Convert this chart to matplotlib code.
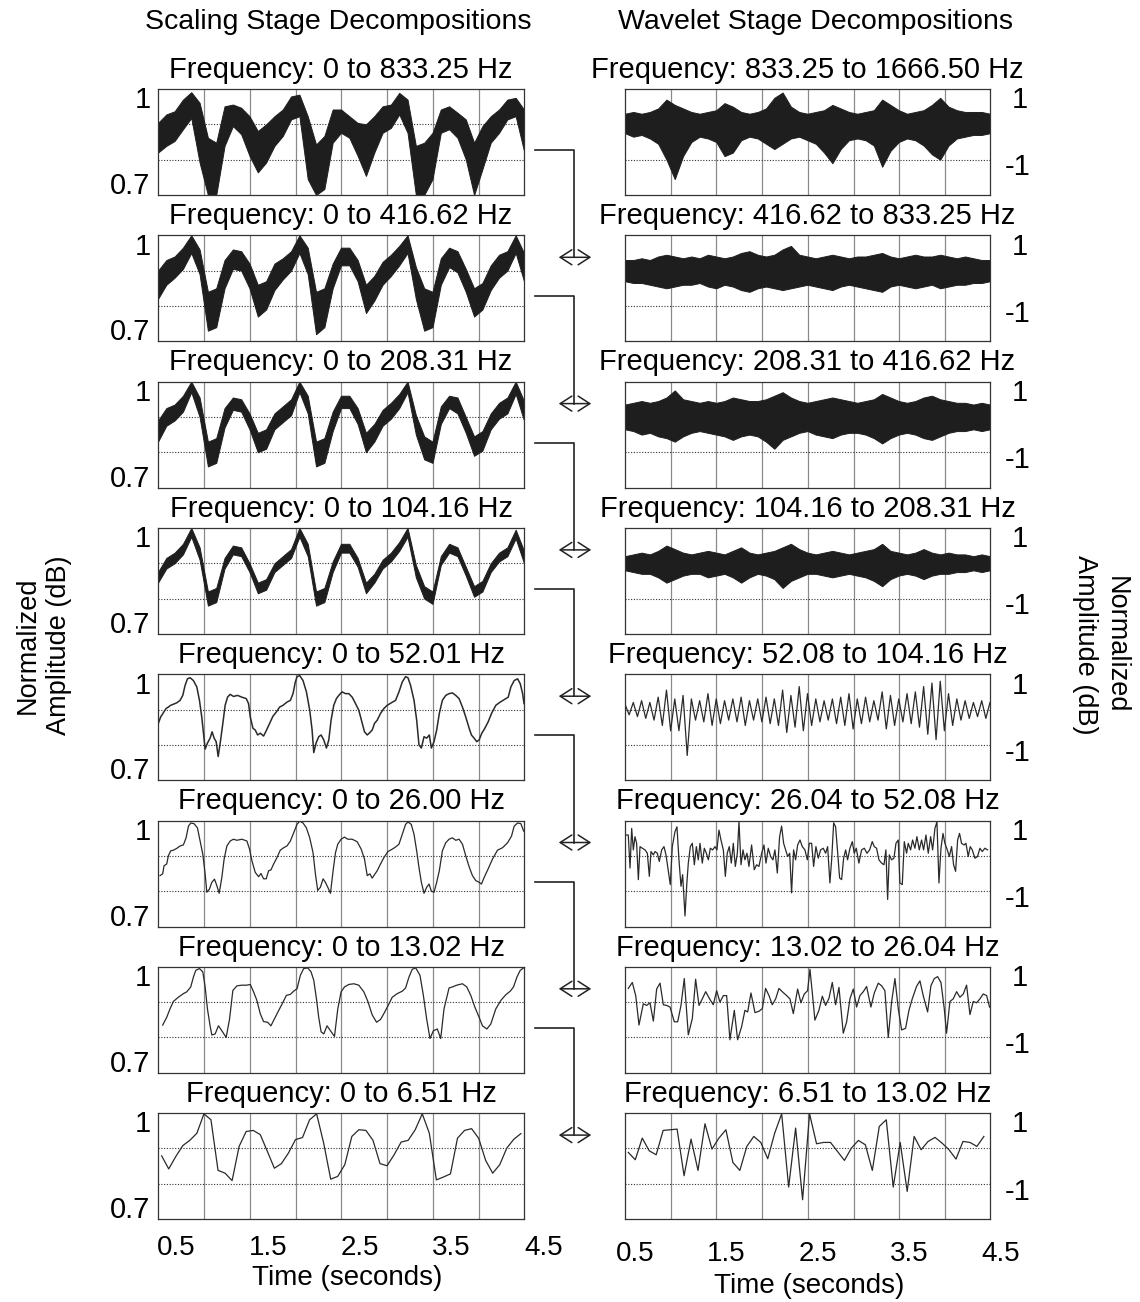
import numpy as np
import matplotlib
matplotlib.use("Agg")
import matplotlib.pyplot as plt
from matplotlib.patches import FancyArrowPatch
from matplotlib.lines import Line2D

plt.rcParams['font.family'] = ['Liberation Sans', 'DejaVu Sans']

# ---------------- titles ----------------
left_titles = ["Frequency: 0 to 833.25 Hz", "Frequency: 0 to 416.62 Hz",
               "Frequency: 0 to 208.31 Hz", "Frequency: 0 to 104.16 Hz",
               "Frequency: 0 to 52.01 Hz", "Frequency: 0 to 26.00 Hz",
               "Frequency: 0 to 13.02 Hz", "Frequency: 0 to 6.51 Hz"]
right_titles = ["Frequency: 833.25 to 1666.50 Hz", "Frequency: 416.62 to 833.25 Hz",
                "Frequency: 208.31 to 416.62 Hz", "Frequency: 104.16 to 208.31 Hz",
                "Frequency: 52.08 to 104.16 Hz", "Frequency: 26.04 to 52.08 Hz",
                "Frequency: 13.02 to 26.04 Hz", "Frequency: 6.51 to 13.02 Hz"]
time_labels = [0.5, 1.5, 2.5, 3.5, 4.5]

# ---------------- dense stages (read as upper / lower envelopes) ----------------
left1_hi = [0.904, 0.928, 0.937, 0.970, 0.991, 0.961, 0.862, 0.848, 0.951, 0.956,
            0.947, 0.923, 0.881, 0.900, 0.923, 0.942, 0.979, 0.984, 0.923, 0.843,
            0.867, 0.942, 0.942, 0.923, 0.904, 0.900, 0.923, 0.951, 0.956, 0.989,
            0.970, 0.839, 0.848, 0.876, 0.942, 0.951, 0.933, 0.914, 0.848, 0.895,
            0.923, 0.942, 0.970, 0.975, 0.942]
left1_lo = [0.820, 0.839, 0.853, 0.886, 0.918, 0.792, 0.700, 0.700, 0.839, 0.895,
            0.872, 0.811, 0.764, 0.792, 0.839, 0.867, 0.914, 0.923, 0.745, 0.700,
            0.717, 0.848, 0.876, 0.862, 0.811, 0.754, 0.820, 0.876, 0.890, 0.928,
            0.876, 0.700, 0.700, 0.745, 0.876, 0.886, 0.862, 0.801, 0.700, 0.773,
            0.848, 0.876, 0.914, 0.923, 0.825]
left2_hi = [0.90, 0.93, 0.94, 0.965, 1.0, 0.96, 0.84, 0.85, 0.93, 0.96,
            0.955, 0.92, 0.86, 0.87, 0.92, 0.935, 0.955, 1.0, 0.965, 0.84,
            0.85, 0.92, 0.965, 0.965, 0.93, 0.86, 0.885, 0.925, 0.945, 0.97,
            1.0, 0.91, 0.85, 0.84, 0.935, 0.965, 0.955, 0.905, 0.85, 0.865,
            0.915, 0.945, 0.955, 1.0, 0.95]
left2_lo = [0.82, 0.86, 0.88, 0.905, 0.95, 0.89, 0.73, 0.74, 0.85, 0.905,
            0.90, 0.85, 0.77, 0.79, 0.845, 0.875, 0.90, 0.95, 0.89, 0.72,
            0.74, 0.85, 0.915, 0.915, 0.87, 0.78, 0.815, 0.86, 0.885, 0.915,
            0.95, 0.82, 0.73, 0.74, 0.86, 0.91, 0.895, 0.84, 0.77, 0.79,
            0.845, 0.88, 0.90, 0.95, 0.87]
left3_hi = [0.89, 0.925, 0.935, 0.96, 1.0, 0.955, 0.83, 0.84, 0.925, 0.955,
            0.95, 0.91, 0.855, 0.865, 0.91, 0.93, 0.95, 1.0, 0.96, 0.83,
            0.84, 0.915, 0.96, 0.96, 0.925, 0.855, 0.88, 0.92, 0.94, 0.965,
            1.0, 0.905, 0.845, 0.83, 0.93, 0.96, 0.955, 0.90, 0.845, 0.86,
            0.91, 0.94, 0.955, 1.0, 0.945]
left3_lo = [0.83, 0.875, 0.89, 0.915, 0.97, 0.90, 0.76, 0.77, 0.87, 0.92,
            0.915, 0.865, 0.80, 0.81, 0.865, 0.885, 0.905, 0.97, 0.91, 0.76,
            0.77, 0.86, 0.925, 0.925, 0.88, 0.80, 0.83, 0.875, 0.895, 0.925,
            0.97, 0.85, 0.78, 0.77, 0.88, 0.925, 0.91, 0.855, 0.79, 0.805,
            0.865, 0.895, 0.91, 0.965, 0.89]
left4_hi = [0.875, 0.915, 0.93, 0.955, 1.0, 0.945, 0.82, 0.83, 0.915, 0.95,
            0.945, 0.90, 0.845, 0.855, 0.90, 0.92, 0.94, 1.0, 0.955, 0.82,
            0.83, 0.905, 0.955, 0.955, 0.915, 0.845, 0.87, 0.91, 0.93, 0.96,
            1.0, 0.895, 0.835, 0.82, 0.92, 0.955, 0.945, 0.89, 0.835, 0.85,
            0.90, 0.93, 0.945, 0.995, 0.935]
left4_lo = [0.845, 0.885, 0.90, 0.925, 0.975, 0.91, 0.78, 0.79, 0.885, 0.925,
            0.92, 0.875, 0.815, 0.825, 0.875, 0.895, 0.915, 0.975, 0.92, 0.78,
            0.79, 0.875, 0.93, 0.93, 0.89, 0.815, 0.845, 0.885, 0.905, 0.935,
            0.975, 0.86, 0.80, 0.785, 0.895, 0.93, 0.92, 0.865, 0.805, 0.82,
            0.875, 0.905, 0.92, 0.97, 0.90]

right1_hi = [0.30, 0.35, 0.30, 0.35, 0.45, 0.70, 0.55, 0.45, 0.35, 0.30,
             0.35, 0.40, 0.60, 0.50, 0.35, 0.30, 0.35, 0.45, 0.75, 0.90,
             0.50, 0.35, 0.30, 0.35, 0.40, 0.55, 0.45, 0.35, 0.30, 0.35,
             0.40, 0.70, 0.55, 0.40, 0.30, 0.35, 0.40, 0.55, 0.75, 0.50,
             0.40, 0.35, 0.35, 0.35, 0.30]
right1_lo = [-0.25, -0.35, -0.30, -0.40, -0.55, -1.00, -1.55, -0.90, -0.50, -0.35,
             -0.40, -0.50, -0.90, -0.80, -0.45, -0.35, -0.40, -0.55, -0.70, -0.55,
             -0.40, -0.35, -0.45, -0.55, -0.80, -1.10, -0.70, -0.45, -0.40, -0.45,
             -0.60, -1.20, -0.75, -0.50, -0.40, -0.45, -0.60, -0.85, -1.00, -0.60,
             -0.40, -0.35, -0.30, -0.30, -0.25]
right2_hi = [0.30, 0.30, 0.35, 0.30, 0.40, 0.45, 0.40, 0.35, 0.40, 0.35,
             0.45, 0.40, 0.35, 0.40, 0.50, 0.55, 0.45, 0.40, 0.45, 0.60,
             0.70, 0.45, 0.40, 0.35, 0.40, 0.45, 0.40, 0.35, 0.40, 0.40,
             0.45, 0.50, 0.40, 0.35, 0.40, 0.45, 0.40, 0.40, 0.45, 0.40,
             0.35, 0.40, 0.35, 0.30, 0.30]
right2_lo = [-0.30, -0.35, -0.35, -0.40, -0.45, -0.50, -0.45, -0.40, -0.40, -0.35,
             -0.45, -0.50, -0.40, -0.45, -0.55, -0.60, -0.50, -0.45, -0.50, -0.55,
             -0.50, -0.45, -0.40, -0.45, -0.50, -0.55, -0.45, -0.40, -0.45, -0.50,
             -0.55, -0.60, -0.45, -0.40, -0.45, -0.50, -0.45, -0.40, -0.50, -0.45,
             -0.40, -0.40, -0.35, -0.35, -0.30]
right3_hi = [0.35, 0.40, 0.45, 0.40, 0.45, 0.55, 0.75, 0.50, 0.45, 0.40,
             0.45, 0.40, 0.45, 0.55, 0.50, 0.45, 0.45, 0.50, 0.60, 0.70,
             0.55, 0.45, 0.40, 0.45, 0.50, 0.55, 0.50, 0.45, 0.40, 0.45,
             0.50, 0.65, 0.55, 0.45, 0.40, 0.45, 0.55, 0.60, 0.50, 0.45,
             0.40, 0.40, 0.35, 0.40, 0.35]
right3_lo = [-0.35, -0.40, -0.50, -0.45, -0.55, -0.60, -0.70, -0.55, -0.45, -0.40,
             -0.45, -0.50, -0.55, -0.65, -0.55, -0.50, -0.55, -0.70, -0.90, -0.65,
             -0.55, -0.45, -0.40, -0.50, -0.55, -0.60, -0.50, -0.45, -0.45, -0.50,
             -0.60, -0.75, -0.60, -0.50, -0.45, -0.50, -0.60, -0.65, -0.55, -0.45,
             -0.40, -0.40, -0.35, -0.40, -0.35]
right4_hi = [0.20, 0.25, 0.30, 0.25, 0.35, 0.50, 0.40, 0.30, 0.25, 0.30,
             0.35, 0.30, 0.25, 0.35, 0.45, 0.30, 0.25, 0.30, 0.35, 0.45,
             0.55, 0.40, 0.30, 0.25, 0.30, 0.35, 0.30, 0.25, 0.30, 0.35,
             0.40, 0.55, 0.35, 0.30, 0.25, 0.30, 0.40, 0.30, 0.25, 0.30,
             0.25, 0.25, 0.20, 0.25, 0.20]
right4_lo = [-0.20, -0.25, -0.30, -0.30, -0.40, -0.55, -0.45, -0.35, -0.30, -0.30,
             -0.40, -0.35, -0.30, -0.40, -0.55, -0.40, -0.30, -0.35, -0.45, -0.70,
             -0.50, -0.40, -0.30, -0.30, -0.35, -0.40, -0.35, -0.30, -0.35, -0.40,
             -0.50, -0.65, -0.45, -0.35, -0.30, -0.35, -0.45, -0.35, -0.30, -0.30,
             -0.25, -0.25, -0.20, -0.25, -0.20]
# 52-104 Hz stage: successive peaks and troughs of the spiky trace
right5_peaks = [0.15, 0.20, 0.25, 0.20, 0.35, 0.55, 0.30, 0.40, 0.30, 0.25,
                0.45, 0.30, 0.25, 0.30, 0.35, 0.25, 0.30, 0.35, 0.30, 0.55,
                0.40, 0.65, 0.45, 0.30, 0.25, 0.30, 0.35, 0.45, 0.30, 0.35,
                0.25, 0.50, 0.40, 0.30, 0.45, 0.50, 0.65, 0.75, 0.80, 0.45,
                0.30, 0.25, 0.20, 0.25, 0.20]
right5_troughs = [-0.15, -0.20, -0.25, -0.30, -0.45, -0.60, -0.60, -1.30, -0.30, -0.35,
                  -0.45, -0.40, -0.30, -0.35, -0.45, -0.30, -0.35, -0.40, -0.45, -0.65,
                  -0.50, -0.60, -0.45, -0.35, -0.30, -0.40, -0.45, -0.55, -0.40, -0.35,
                  -0.30, -0.55, -0.45, -0.35, -0.40, -0.50, -0.70, -0.85, -0.60, -0.45,
                  -0.30, -0.25, -0.20, -0.25]

# ---------------- traced stages: (time s, amplitude) ----------------
left5_pts = [(0.304, 0.861), (0.329, 0.879), (0.358, 0.891), (0.388, 0.903), (0.413, 0.907),
             (0.438, 0.912), (0.468, 0.915), (0.504, 0.919), (0.541, 0.926), (0.570, 0.940),
             (0.595, 0.968), (0.621, 0.987), (0.650, 0.990), (0.686, 0.982), (0.723, 0.964),
             (0.752, 0.926), (0.777, 0.879), (0.796, 0.833), (0.814, 0.788), (0.839, 0.805),
             (0.868, 0.819), (0.890, 0.837), (0.912, 0.819), (0.934, 0.809), (0.956, 0.767),
             (0.978, 0.805), (1.007, 0.861), (1.032, 0.912), (1.058, 0.935), (1.087, 0.943),
             (1.123, 0.937), (1.167, 0.940), (1.214, 0.935), (1.262, 0.931), (1.287, 0.917),
             (1.306, 0.879), (1.335, 0.847), (1.360, 0.842), (1.386, 0.828), (1.415, 0.833),
             (1.451, 0.825), (1.480, 0.840), (1.517, 0.861), (1.553, 0.881), (1.590, 0.893),
             (1.626, 0.907), (1.663, 0.912), (1.706, 0.921), (1.743, 0.926), (1.772, 0.945),
             (1.797, 0.978), (1.816, 0.993), (1.845, 0.996), (1.881, 0.982), (1.918, 0.950),
             (1.954, 0.898), (1.980, 0.842), (1.998, 0.778), (2.023, 0.805), (2.052, 0.823),
             (2.078, 0.828), (2.107, 0.814), (2.136, 0.791), (2.162, 0.814), (2.187, 0.870),
             (2.216, 0.912), (2.245, 0.931), (2.271, 0.940), (2.307, 0.950), (2.344, 0.945),
             (2.380, 0.945), (2.417, 0.935), (2.453, 0.917), (2.489, 0.898), (2.526, 0.861),
             (2.551, 0.837), (2.581, 0.828), (2.610, 0.835), (2.635, 0.842), (2.661, 0.861),
             (2.690, 0.870), (2.726, 0.889), (2.763, 0.903), (2.799, 0.912), (2.843, 0.919),
             (2.890, 0.926), (2.927, 0.950), (2.963, 0.978), (2.999, 0.993), (3.025, 0.990),
             (3.054, 0.968), (3.091, 0.926), (3.120, 0.870), (3.145, 0.800), (3.171, 0.791),
             (3.200, 0.823), (3.229, 0.819), (3.258, 0.828), (3.280, 0.791), (3.309, 0.809),
             (3.338, 0.842), (3.367, 0.889), (3.400, 0.926), (3.437, 0.940), (3.473, 0.945),
             (3.509, 0.947), (3.546, 0.940), (3.582, 0.931), (3.619, 0.907), (3.655, 0.879),
             (3.692, 0.847), (3.717, 0.828), (3.746, 0.819), (3.775, 0.809), (3.801, 0.814),
             (3.830, 0.833), (3.863, 0.847), (3.899, 0.865), (3.936, 0.889), (3.983, 0.912),
             (4.030, 0.921), (4.074, 0.928), (4.118, 0.935), (4.147, 0.964), (4.183, 0.982),
             (4.220, 0.987), (4.249, 0.973), (4.275, 0.945), (4.290, 0.917)]

left6_pts = [(0.322, 0.844), (0.351, 0.849), (0.366, 0.872), (0.395, 0.877), (0.413, 0.900),
             (0.438, 0.914), (0.468, 0.916), (0.504, 0.921), (0.541, 0.928), (0.577, 0.931),
             (0.606, 0.951), (0.632, 0.984), (0.657, 0.993), (0.693, 0.991), (0.730, 0.979),
             (0.759, 0.942), (0.788, 0.905), (0.814, 0.849), (0.832, 0.797), (0.861, 0.806),
             (0.887, 0.825), (0.916, 0.834), (0.941, 0.816), (0.967, 0.794), (0.996, 0.839),
             (1.021, 0.891), (1.051, 0.928), (1.087, 0.942), (1.123, 0.947), (1.160, 0.944),
             (1.214, 0.947), (1.269, 0.942), (1.298, 0.919), (1.324, 0.886), (1.360, 0.853),
             (1.397, 0.841), (1.422, 0.850), (1.451, 0.835), (1.480, 0.835), (1.506, 0.858),
             (1.531, 0.860), (1.561, 0.877), (1.597, 0.895), (1.633, 0.916), (1.670, 0.923),
             (1.706, 0.928), (1.743, 0.942), (1.779, 0.965), (1.815, 0.989), (1.845, 0.998),
             (1.881, 0.993), (1.918, 0.979), (1.954, 0.951), (1.990, 0.909), (2.016, 0.849),
             (2.041, 0.802), (2.070, 0.811), (2.100, 0.835), (2.125, 0.825), (2.151, 0.811),
             (2.180, 0.794), (2.209, 0.858), (2.235, 0.909), (2.260, 0.933), (2.296, 0.947),
             (2.333, 0.953), (2.369, 0.947), (2.417, 0.947), (2.471, 0.940), (2.515, 0.919),
             (2.551, 0.891), (2.581, 0.844), (2.610, 0.849), (2.635, 0.837), (2.661, 0.847),
             (2.690, 0.858), (2.726, 0.877), (2.763, 0.895), (2.806, 0.912), (2.854, 0.919),
             (2.890, 0.925), (2.927, 0.933), (2.963, 0.961), (2.999, 0.989), (3.025, 0.996),
             (3.061, 0.989), (3.091, 0.961), (3.120, 0.914), (3.145, 0.867), (3.171, 0.825),
             (3.200, 0.794), (3.229, 0.811), (3.255, 0.820), (3.280, 0.800), (3.309, 0.797),
             (3.338, 0.825), (3.367, 0.858), (3.400, 0.914), (3.437, 0.937), (3.473, 0.947),
             (3.509, 0.951), (3.546, 0.944), (3.582, 0.947), (3.619, 0.933), (3.655, 0.900),
             (3.692, 0.869), (3.728, 0.844), (3.764, 0.830), (3.801, 0.825), (3.826, 0.820),
             (3.856, 0.839), (3.899, 0.863), (3.947, 0.891), (4.001, 0.916), (4.056, 0.923),
             (4.111, 0.937), (4.154, 0.956), (4.183, 0.984), (4.220, 0.993), (4.256, 0.991),
             (4.286, 0.970)]

left7_pts = [(0.351, 0.835), (0.395, 0.857), (0.431, 0.881), (0.468, 0.902), (0.522, 0.914),
             (0.577, 0.924), (0.613, 0.929), (0.657, 0.943), (0.686, 0.971), (0.712, 0.990),
             (0.752, 0.995), (0.788, 0.986), (0.814, 0.943), (0.839, 0.881), (0.868, 0.833),
             (0.887, 0.807), (0.923, 0.810), (0.959, 0.833), (0.996, 0.819), (1.043, 0.800),
             (1.080, 0.852), (1.116, 0.933), (1.160, 0.946), (1.214, 0.948), (1.269, 0.948),
             (1.306, 0.950), (1.342, 0.929), (1.378, 0.905), (1.415, 0.867), (1.451, 0.845),
             (1.495, 0.843), (1.531, 0.833), (1.568, 0.852), (1.615, 0.876), (1.663, 0.900),
             (1.699, 0.919), (1.743, 0.922), (1.779, 0.931), (1.816, 0.938), (1.852, 0.976),
             (1.888, 0.995), (1.932, 0.997), (1.968, 0.986), (1.998, 0.962), (2.027, 0.910),
             (2.052, 0.857), (2.078, 0.816), (2.107, 0.810), (2.143, 0.833), (2.180, 0.819),
             (2.224, 0.803), (2.260, 0.881), (2.296, 0.929), (2.333, 0.943), (2.380, 0.950),
             (2.435, 0.952), (2.489, 0.948), (2.544, 0.929), (2.588, 0.902), (2.635, 0.864),
             (2.683, 0.843), (2.726, 0.851), (2.770, 0.871), (2.817, 0.895), (2.854, 0.914),
             (2.908, 0.924), (2.963, 0.931), (2.999, 0.940), (3.036, 0.971), (3.072, 0.993),
             (3.109, 0.997), (3.156, 0.976), (3.193, 0.919), (3.229, 0.852), (3.265, 0.797),
             (3.302, 0.819), (3.345, 0.824), (3.382, 0.797), (3.418, 0.881), (3.473, 0.940),
             (3.509, 0.943), (3.557, 0.948), (3.619, 0.952), (3.666, 0.943), (3.710, 0.919),
             (3.754, 0.886), (3.801, 0.857), (3.837, 0.833), (3.885, 0.824), (3.928, 0.838),
             (3.983, 0.881), (4.038, 0.905), (4.092, 0.921), (4.140, 0.931), (4.176, 0.943),
             (4.213, 0.971), (4.249, 0.990), (4.286, 0.997)]

left8_vals = [0.879, 0.842, 0.877, 0.908, 0.923, 0.943, 0.998, 0.981, 0.838, 0.830,
              0.809, 0.906, 0.948, 0.951, 0.939, 0.892, 0.844, 0.857, 0.887, 0.925,
              0.931, 0.981, 0.998, 0.915, 0.813, 0.821, 0.854, 0.934, 0.953, 0.951,
              0.923, 0.857, 0.851, 0.882, 0.918, 0.923, 0.953, 0.998, 0.943, 0.811,
              0.819, 0.828, 0.929, 0.951, 0.956, 0.929, 0.866, 0.830, 0.854, 0.901,
              0.926, 0.942]
left8_span = (0.340, 4.256)

right6_pts = [(0.318, 0.589), (0.336, 0.589), (0.355, -0.346), (0.373, 0.776), (0.391, 0.168),
              (0.409, 0.542), (0.427, 0.355), (0.446, -0.674), (0.464, 0.261), (0.489, 0.215),
              (0.519, 0.168), (0.544, 0.074), (0.566, -0.580), (0.584, 0.121), (0.610, 0.028),
              (0.628, 0.121), (0.653, 0.074), (0.675, -0.159), (0.701, 0.168), (0.726, 0.261),
              (0.748, 0.028), (0.774, -0.440), (0.795, -0.814), (0.817, 0.261), (0.846, 0.682),
              (0.868, 0.822), (0.890, -0.113), (0.912, -0.861), (0.930, -0.533), (0.956, -1.702),
              (0.974, -0.861), (0.992, -0.206), (1.014, 0.261), (1.036, 0.355), (1.058, -0.253),
              (1.080, 0.261), (1.101, -0.113), (1.120, 0.355), (1.145, -0.206), (1.167, 0.215),
              (1.189, 0.074), (1.211, -0.113), (1.233, 0.215), (1.258, 0.168), (1.284, 0.261),
              (1.305, 0.168), (1.327, 0.729), (1.349, 0.448), (1.375, 0.168), (1.397, -0.580),
              (1.418, 0.074), (1.440, 0.261), (1.462, -0.206), (1.484, 0.355), (1.506, -0.300),
              (1.528, 0.074), (1.546, 0.963), (1.568, -0.253), (1.590, 0.168), (1.611, -0.113),
              (1.633, 0.074), (1.655, -0.300), (1.684, 0.308), (1.713, -0.393), (1.739, -0.253),
              (1.764, -0.300), (1.794, 0.074), (1.819, 0.308), (1.841, -0.206), (1.866, 0.215),
              (1.892, -0.019), (1.917, -0.113), (1.939, 0.168), (1.965, -0.487), (1.990, 0.542),
              (2.012, 0.841), (2.034, 0.355), (2.056, 0.168), (2.078, -0.019), (2.100, 0.074),
              (2.121, -1.048), (2.143, 0.168), (2.165, -0.113), (2.187, 0.308), (2.213, 0.448),
              (2.238, 0.261), (2.267, 0.168), (2.293, -0.113), (2.315, 0.355), (2.340, 0.355),
              (2.362, -0.300), (2.387, 0.261), (2.413, -0.066), (2.438, 0.168), (2.467, 0.215),
              (2.493, 0.074), (2.515, 0.261), (2.540, -0.767), (2.559, -0.113), (2.581, 0.935),
              (2.602, 0.822), (2.624, 0.121), (2.646, -0.627), (2.668, -0.674), (2.690, -0.066),
              (2.712, 0.168), (2.733, -0.113), (2.759, 0.215), (2.785, 0.402), (2.806, 0.074),
              (2.828, 0.215), (2.857, -0.206), (2.886, 0.168), (2.916, 0.215), (2.945, 0.074),
              (2.974, 0.168), (3.003, 0.402), (3.025, 0.261), (3.050, 0.215), (3.076, -0.113),
              (3.105, -0.206), (3.131, -0.253), (3.152, 0.168), (3.171, -1.235), (3.189, 0.028),
              (3.214, -0.113), (3.240, -0.066), (3.262, 0.355), (3.287, 0.448), (3.305, -0.767),
              (3.331, -0.814), (3.353, 0.402), (3.378, 0.074), (3.396, 0.355), (3.422, 0.168),
              (3.444, 0.448), (3.469, 0.215), (3.491, 0.542), (3.517, 0.168), (3.542, 0.448),
              (3.564, 0.168), (3.590, 0.589), (3.615, 0.074), (3.641, 0.542), (3.663, 0.168),
              (3.688, 0.776), (3.710, 0.963), (3.732, -0.767), (3.754, 0.215), (3.776, 0.635),
              (3.797, 0.355), (3.823, 0.168), (3.845, -0.019), (3.870, 0.261), (3.892, -0.253),
              (3.914, -0.440), (3.936, 0.448), (3.957, 0.635), (3.979, 0.355), (4.005, 0.308),
              (4.027, 0.355), (4.052, -0.019), (4.074, 0.261), (4.096, 0.168), (4.125, -0.066),
              (4.154, -0.019), (4.180, 0.215), (4.205, 0.121), (4.234, 0.215), (4.263, 0.168)]

right7_pts = [(0.336, 0.389), (0.380, 0.556), (0.417, 0.185), (0.453, -0.648), (0.500, -0.046),
              (0.537, -0.093), (0.573, -0.019), (0.610, -0.537), (0.646, 0.370), (0.683, 0.537),
              (0.719, -0.074), (0.755, -0.093), (0.792, -0.139), (0.839, -0.556), (0.876, -0.556),
              (0.912, -0.093), (0.948, 0.667), (0.992, -0.926), (1.036, -0.463), (1.072, 0.648),
              (1.109, -0.093), (1.145, 0.093), (1.182, 0.296), (1.229, 0.074), (1.265, -0.074),
              (1.302, 0.324), (1.338, 0.000), (1.375, 0.185), (1.411, 0.185), (1.447, -1.065),
              (1.495, -0.232), (1.531, -1.065), (1.575, -0.694), (1.611, -0.232), (1.641, -0.278),
              (1.677, 0.259), (1.721, -0.296), (1.764, -0.259), (1.801, -0.185), (1.837, 0.389),
              (1.874, 0.185), (1.910, -0.074), (1.947, 0.093), (1.983, 0.389), (2.019, 0.296),
              (2.067, 0.185), (2.103, 0.093), (2.140, -0.324), (2.187, 0.370), (2.223, -0.019),
              (2.260, 0.231), (2.296, 0.324), (2.322, 0.926), (2.347, 0.278), (2.376, -0.509),
              (2.420, -0.232), (2.457, 0.167), (2.493, -0.093), (2.530, 0.111), (2.566, 0.556),
              (2.602, -0.074), (2.639, 0.417), (2.686, -0.880), (2.723, -0.556), (2.759, 0.093),
              (2.795, 0.370), (2.832, -0.139), (2.868, 0.185), (2.905, 0.296), (2.941, 0.444),
              (2.988, -0.139), (3.025, 0.259), (3.069, 0.537), (3.105, 0.463), (3.141, 0.324),
              (3.178, -1.000), (3.214, 0.000), (3.251, 0.667), (3.287, -0.185), (3.324, -0.787),
              (3.367, -0.741), (3.404, -0.232), (3.440, 0.093), (3.487, 0.444), (3.524, 0.602),
              (3.560, 0.185), (3.608, -0.278), (3.644, 0.463), (3.681, 0.667), (3.717, 0.722),
              (3.754, 0.556), (3.790, -0.185), (3.815, -0.880), (3.852, 0.019), (3.888, 0.093),
              (3.925, 0.296), (3.961, 0.139), (3.998, 0.231), (4.034, 0.481), (4.071, -0.352),
              (4.107, 0.019), (4.143, -0.019), (4.180, 0.093), (4.216, 0.231), (4.253, 0.185),
              (4.285, -0.139)]

right8_vals = [-0.113, -0.320, 0.293, -0.066, -0.179, 0.510, 0.528, 0.547, -0.773, 0.264,
               -0.622, 0.698, -0.018, 0.293, 0.528, -0.396, -0.622, 0.057, 0.340, 0.170,
               -0.292, 0.434, 0.981, -1.093, 0.576, -1.452, 0.981, 0.132, 0.170, 0.170,
               -0.084, -0.339, 0.010, 0.227, 0.104, -0.622, 0.623, 0.811, -1.093, 0.170,
               -1.216, 0.340, -0.037, 0.198, 0.312, 0.151, -0.037, -0.301, 0.198, 0.170,
               0.057, 0.340]
right8_span = (0.336, 4.223)

# ---------------- figure layout ----------------
W, H = 1140, 1302
fig = plt.figure(figsize=(W / 100, H / 100), dpi=100)

def fx(px):
    return px / W

def fy(py):
    return 1 - py / H

row_tops = [89 + 146.3 * i for i in range(8)]
panel_h = 106
t_min, t_max = 0.30, 4.29
grid_t = np.arange(0.80, 4.0, 0.5)
ink = '#1e1e1e'
fs = 21


def style_axes(ax, ylim, ygrid):
    ax.set_xlim(t_min, t_max)
    ax.set_ylim(*ylim)
    ax.set_xticks(grid_t)
    ax.set_yticks(ygrid)
    ax.tick_params(length=0, labelbottom=False, labelleft=False)
    ax.grid(axis='x', color='#8a8a8a', lw=0.9, ls='-')
    ax.grid(axis='y', color='#333333', lw=0.8, ls=(0, (1, 1.5)))
    ax.set_axisbelow(True)
    for s in ax.spines.values():
        s.set_linewidth(0.9)
        s.set_color('#333333')


def draw_band(ax, hi, lo):
    t = np.linspace(t_min, t_max, len(hi))
    ax.fill_between(t, lo, hi, color=ink, lw=0.7)


def draw_spikes(ax, peaks, troughs):
    tp = np.linspace(t_min, t_max, len(peaks))
    tt = tp[:-1] + (tp[1] - tp[0]) / 2
    t = np.empty(len(tp) + len(tt))
    v = np.empty_like(t)
    t[0::2], v[0::2] = tp, peaks
    t[1::2], v[1::2] = tt, troughs
    ax.plot(t, v, color='#2a2a2a', lw=0.9)


def draw_pts(ax, pts, lw=0.9):
    t, v = np.array(pts).T
    ax.plot(t, v, color='#2a2a2a', lw=lw)


def draw_vals(ax, vals, span):
    t = np.linspace(span[0], span[1], len(vals))
    ax.plot(t, vals, color='#2a2a2a', lw=0.9)


left_axes, right_axes = [], []
for i in range(8):
    top = row_tops[i]
    axl = fig.add_axes([fx(158), fy(top + panel_h), fx(366), panel_h / H])
    axr = fig.add_axes([fx(625), fy(top + panel_h), fx(365), panel_h / H])
    style_axes(axl, (0.7, 1.0), [0.8, 0.9])
    style_axes(axr, (-2.0, 1.0), [-1.0, 0.0])
    axl.set_title(left_titles[i], fontsize=fs, pad=8)
    axr.set_title(right_titles[i], fontsize=fs, pad=8)
    # amplitude labels
    axl.text(-0.02, 0.968, "1", transform=axl.get_yaxis_transform(),
             ha='right', va='center', fontsize=fs)
    axl.text(-0.02, 0.725, "0.7", transform=axl.get_yaxis_transform(),
             ha='right', va='center', fontsize=fs)
    axr.text(1.06, 0.68, "1", transform=axr.get_yaxis_transform(),
             ha='left', va='center', fontsize=fs)
    axr.text(1.04, -1.22, "-1", transform=axr.get_yaxis_transform(),
             ha='left', va='center', fontsize=fs)
    left_axes.append(axl)
    right_axes.append(axr)

# scaling stages
for ax, (hi, lo) in zip(left_axes[:4], [(left1_hi, left1_lo), (left2_hi, left2_lo),
                                        (left3_hi, left3_lo), (left4_hi, left4_lo)]):
    draw_band(ax, hi, lo)
draw_pts(left_axes[4], left5_pts, lw=1.1)
draw_pts(left_axes[5], left6_pts)
draw_pts(left_axes[6], left7_pts)
draw_vals(left_axes[7], left8_vals, left8_span)

# wavelet stages
for ax, (hi, lo) in zip(right_axes[:4], [(right1_hi, right1_lo), (right2_hi, right2_lo),
                                         (right3_hi, right3_lo), (right4_hi, right4_lo)]):
    draw_band(ax, hi, lo)
draw_spikes(right_axes[4], right5_peaks, right5_troughs)
draw_pts(right_axes[5], right6_pts)
draw_pts(right_axes[6], right7_pts)
draw_vals(right_axes[7], right8_vals, right8_span)

# time labels
for t in time_labels:
    left_axes[-1].text(t, -0.27, f"{t:.1f}", transform=left_axes[-1].get_xaxis_transform(),
                       ha='center', va='center', fontsize=20, clip_on=False)
    right_axes[-1].text(t - 0.09, -0.33, f"{t:.1f}", transform=right_axes[-1].get_xaxis_transform(),
                        ha='center', va='center', fontsize=20, clip_on=False)
fig.text(fx(347), fy(1278), "Time (seconds)", ha='center', va='center', fontsize=20)
fig.text(fx(809), fy(1286), "Time (seconds)", ha='center', va='center', fontsize=20)

# column headers and amplitude labels
fig.text(fx(338), fy(22), "Scaling Stage Decompositions", ha='center', va='center', fontsize=20.5)
fig.text(fx(815), fy(22), "Wavelet Stage Decompositions", ha='center', va='center', fontsize=20.5)
fig.text(fx(43), fy(645), "Normalized\nAmplitude (dB)", rotation=90, ha='center', va='center',
         fontsize=19.5, linespacing=1.25)
fig.text(fx(1100), fy(645), "Normalized\nAmplitude (dB)", rotation=270, ha='center', va='center',
         fontsize=19.5, linespacing=1.25)

# connectors from each scaling stage to the next decomposition
for i in range(7):
    y_line = row_tops[i] + 61
    y_arrow = row_tops[i + 1] + 22
    fig.add_artist(Line2D([fx(535), fx(574), fx(574)], [fy(y_line), fy(y_line), fy(y_arrow)],
                          transform=fig.transFigure, color='#222222', lw=1.2))
    fig.add_artist(FancyArrowPatch((fx(556), fy(y_arrow)), (fx(594), fy(y_arrow)),
                                   transform=fig.transFigure, arrowstyle='<->,head_length=0.7,head_width=0.45',
                                   mutation_scale=12, color='#222222', lw=1.1))

fig.savefig("out.png", dpi=100)
